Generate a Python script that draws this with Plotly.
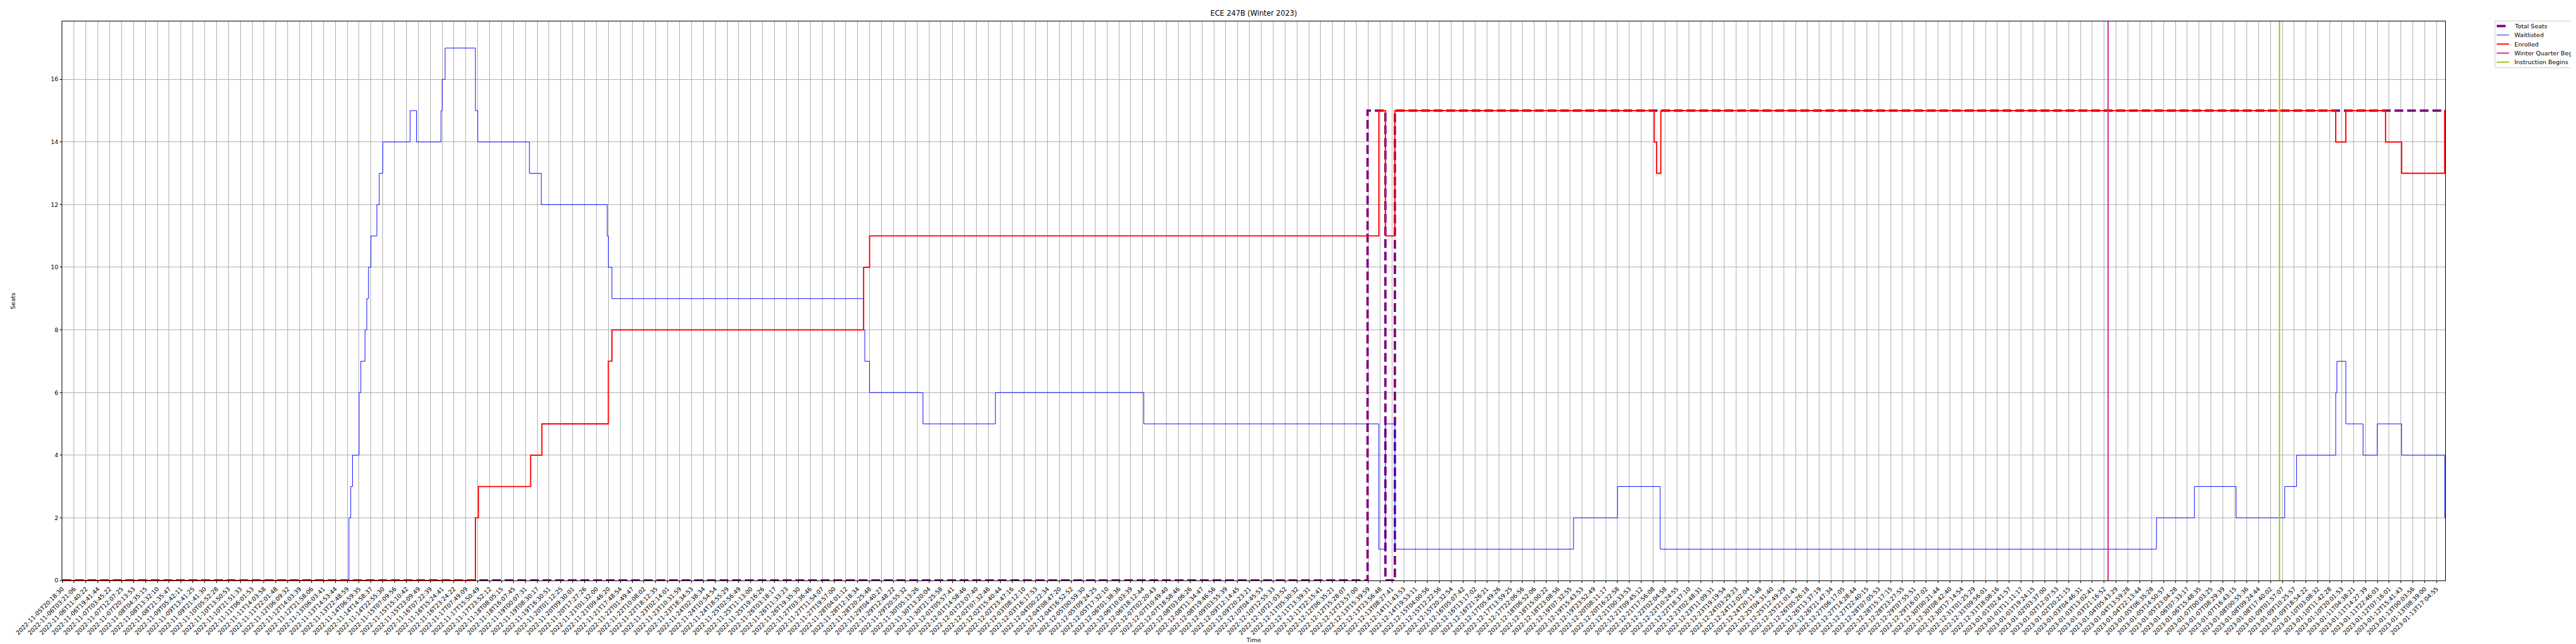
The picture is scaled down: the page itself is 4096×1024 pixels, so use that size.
import numpy as np
import pandas as pd
import plotly.graph_objects as go

# ---------------- data ----------------
tick_labels = [
    "2022-11-05T20:18:30", "2022-11-06T03:21:06", "2022-11-06T11:40:22", "2022-11-06T19:41:44",
    "2022-11-07T03:45:22", "2022-11-07T12:07:25", "2022-11-07T20:13:53", "2022-11-08T04:35:15",
    "2022-11-08T13:32:10", "2022-11-08T21:35:47", "2022-11-09T05:42:11", "2022-11-09T13:41:25",
    "2022-11-09T21:41:30", "2022-11-10T05:52:28", "2022-11-10T13:50:53", "2022-11-10T21:51:33",
    "2022-11-11T06:01:53", "2022-11-11T14:03:58", "2022-11-11T22:01:48", "2022-11-12T06:09:32",
    "2022-11-12T14:03:39", "2022-11-12T21:58:06", "2022-11-13T06:03:41", "2022-11-13T14:53:44",
    "2022-11-13T22:48:59", "2022-11-14T06:59:35", "2022-11-14T14:58:37", "2022-11-14T22:55:30",
    "2022-11-15T07:09:56", "2022-11-15T15:10:42", "2022-11-15T23:09:49", "2022-11-16T07:22:39",
    "2022-11-16T15:24:41", "2022-11-16T23:24:22", "2022-11-17T07:49:09", "2022-11-17T15:50:49",
    "2022-11-17T23:52:12", "2022-11-18T08:05:15", "2022-11-18T16:07:45", "2022-11-19T00:07:31",
    "2022-11-19T08:30:17", "2022-11-19T16:30:51", "2022-11-20T01:12:25", "2022-11-20T09:30:01",
    "2022-11-20T17:27:26", "2022-11-21T01:32:00", "2022-11-21T09:46:20", "2022-11-21T17:48:54",
    "2022-11-22T01:49:47", "2022-11-22T10:08:02", "2022-11-22T18:12:35", "2022-11-23T02:14:01",
    "2022-11-23T10:31:59", "2022-11-23T18:34:53", "2022-11-24T02:38:34", "2022-11-24T10:54:54",
    "2022-11-24T18:55:29", "2022-11-25T02:56:49", "2022-11-25T11:13:00", "2022-11-25T19:16:26",
    "2022-11-26T03:18:17", "2022-11-26T11:33:23", "2022-11-26T19:35:30", "2022-11-27T03:36:46",
    "2022-11-27T11:54:07", "2022-11-27T19:57:00", "2022-11-28T04:01:12", "2022-11-28T12:18:34",
    "2022-11-28T20:25:48", "2022-11-29T04:40:27", "2022-11-29T12:48:22", "2022-11-29T20:55:32",
    "2022-11-30T05:13:26", "2022-11-30T13:20:04", "2022-11-30T21:25:58", "2022-12-01T05:57:41",
    "2022-12-01T14:58:46", "2022-12-01T23:07:40", "2022-12-02T07:32:46", "2022-12-02T15:40:44",
    "2022-12-02T23:47:16", "2022-12-03T08:12:10", "2022-12-03T16:17:53", "2022-12-04T00:22:34",
    "2022-12-04T08:47:20", "2022-12-04T16:52:52", "2022-12-05T00:59:30", "2022-12-05T09:24:25",
    "2022-12-05T17:32:10", "2022-12-06T01:38:36", "2022-12-06T10:03:39", "2022-12-06T18:12:44",
    "2022-12-07T02:20:43", "2022-12-07T10:49:40", "2022-12-07T18:58:46", "2022-12-08T03:06:26",
    "2022-12-08T11:34:47", "2022-12-08T19:46:56", "2022-12-09T03:55:39", "2022-12-09T12:14:45",
    "2022-12-09T20:23:21", "2022-12-10T04:45:53", "2022-12-10T12:55:33", "2022-12-10T21:03:52",
    "2022-12-11T05:30:32", "2022-12-11T13:39:31", "2022-12-11T22:15:41", "2022-12-12T06:35:21",
    "2022-12-12T15:28:07", "2022-12-12T23:57:00", "2022-12-13T15:39:59", "2022-12-13T23:56:48",
    "2022-12-13T08:27:41", "2022-12-14T11:43:53", "2022-12-14T19:53:11", "2022-12-15T04:00:56",
    "2022-12-15T12:22:56", "2022-12-15T20:32:54", "2022-12-16T05:07:42", "2022-12-16T13:17:02",
    "2022-12-16T21:26:21", "2022-12-17T05:49:26", "2022-12-17T13:59:25", "2022-12-17T22:06:56",
    "2022-12-18T06:52:06", "2022-12-18T15:00:22", "2022-12-18T23:08:56", "2022-12-19T07:32:55",
    "2022-12-19T15:43:53", "2022-12-19T23:52:49", "2022-12-20T08:11:17", "2022-12-20T16:22:58",
    "2022-12-21T00:33:53", "2022-12-21T09:45:12", "2022-12-21T17:56:08", "2022-12-22T02:04:58",
    "2022-12-22T10:24:55", "2022-12-22T18:37:10", "2022-12-23T02:48:31", "2022-12-23T11:09:31",
    "2022-12-23T19:19:54", "2022-12-24T03:29:23", "2022-12-24T12:02:04", "2022-12-24T20:11:48",
    "2022-12-25T04:31:40", "2022-12-25T12:49:29", "2022-12-25T21:01:45", "2022-12-26T05:26:18",
    "2022-12-26T13:37:19", "2022-12-26T21:47:34", "2022-12-27T06:17:05", "2022-12-27T14:28:44",
    "2022-12-27T22:40:15", "2022-12-28T07:05:53", "2022-12-28T15:17:15", "2022-12-28T23:27:55",
    "2022-12-29T07:55:51", "2022-12-29T16:07:02", "2022-12-30T00:21:44", "2022-12-30T08:42:40",
    "2022-12-30T17:14:54", "2022-12-31T01:25:29", "2022-12-31T09:56:01", "2022-12-31T18:08:16",
    "2023-01-01T02:41:57", "2023-01-01T11:11:17", "2023-01-01T19:24:15", "2023-01-02T03:37:00",
    "2023-01-02T12:07:53", "2023-01-02T20:21:15", "2023-01-03T04:46:31", "2023-01-03T13:02:41",
    "2023-01-03T21:16:52", "2023-01-04T05:43:29", "2023-01-04T13:59:28", "2023-01-04T22:13:44",
    "2023-01-05T06:35:28", "2023-01-05T14:50:57", "2023-01-05T23:04:28", "2023-01-06T07:33:17",
    "2023-01-06T15:48:35", "2023-01-07T00:03:25", "2023-01-07T08:29:39", "2023-01-07T16:43:15",
    "2023-01-08T00:55:36", "2023-01-08T09:24:44", "2023-01-08T17:40:02", "2023-01-09T01:57:07",
    "2023-01-09T10:25:57", "2023-01-09T18:54:22", "2023-01-10T03:08:32", "2023-01-10T11:42:28",
    "2023-01-10T20:01:53", "2023-01-11T04:38:21", "2023-01-11T14:27:39", "2023-01-11T22:46:03",
    "2023-01-12T07:16:01", "2023-01-12T15:41:43", "2023-01-13T00:03:56", "2023-01-13T08:39:00",
    "2023-01-13T17:04:55",
]

# position of the last sample, in units of labelled-tick spacing
x_last = 200.72

# step series: change points (x in labelled-tick units) and the value from there on
total_x = [0, 109.95, 111.45, 112.25]
total_y = [0, 15, 0, 15]

wait_x = [0, 24.15, 24.3, 24.45, 25.0, 25.15, 25.5, 25.65, 25.8, 26.0, 26.5, 26.7, 27.0,
          29.3, 29.85, 31.9, 32.0, 32.25, 34.8, 35.0, 39.35, 40.35, 45.9, 46.0, 46.3,
          67.5, 67.6, 68.0, 72.5, 78.6, 91.1, 110.9, 111.45, 112.25,
          127.3, 131.0, 134.6, 176.4, 179.6, 183.1, 187.2, 188.2,
          191.5, 191.6, 192.35, 193.8, 195.0, 197.05, 200.68]
wait_y = [0, 2, 3, 4, 6, 7, 8, 9, 10, 11, 12, 13, 14,
          15, 14, 15, 16, 17, 15, 14, 13, 12, 11, 10, 9,
          8, 7, 6, 5, 6, 5, 1, 5, 1,
          2, 3, 1, 2, 3, 2, 3, 4,
          6, 7, 5, 4, 5, 4, 2]

enr_x = [0, 34.8, 35.05, 39.45, 40.4, 46.0, 46.3, 67.5, 67.6, 68.0,
         110.9, 111.45, 112.25, 134.1, 134.3, 134.65,
         191.5, 192.35, 195.7, 197.05, 200.68]
enr_y = [0, 2, 3, 4, 5, 7, 8, 10, 10, 11,
         15, 11, 15, 14, 13, 15,
         14, 15, 14, 13, 15]

event_names = ["Winter Quarter Begins", "Instruction Begins"]
event_times = ["2023-01-04T00:00:00", "2023-01-09T00:00:00"]
event_colors = ["#d62190", "#9abf11"]

# ---------------- helpers ----------------
tick_t = pd.to_datetime(pd.Series(tick_labels)).astype("int64").to_numpy() / 1e9


def time_to_pos(ts):
    t = pd.Timestamp(ts).value / 1e9
    for i in range(len(tick_t) - 1, 0, -1):
        if tick_t[i - 1] <= t <= tick_t[i]:
            return (i - 1) + (t - tick_t[i - 1]) / (tick_t[i] - tick_t[i - 1])
    return float(len(tick_t) - 1)


def extend(xs, ys):
    return list(xs) + [x_last], list(ys) + [ys[-1]]


S = 0.6827
PT = 100 / 72 * S  # one matplotlib point in output pixels
W, H = 4096, 1024
L, R, T, B = 91, 3880, 26, 915

y_top = max(max(wait_y), max(enr_y), max(total_y)) * 1.05

total_dash = "%.1fpx,%.1fpx" % (14.8 * PT, 6.4 * PT)
styles = [
    ("Total Seats", dict(color="#800080", width=4 * PT, dash=total_dash)),
    ("Waitlisted", dict(color="#0000ff", width=1 * PT)),
    ("Enrolled", dict(color="#ff0000", width=2 * PT)),
    (event_names[0], dict(color=event_colors[0], width=2 * PT)),
    (event_names[1], dict(color=event_colors[1], width=2 * PT)),
]

fig = go.Figure()
for (name, st), (xs, ys) in zip(styles[:3], [(total_x, total_y), (wait_x, wait_y), (enr_x, enr_y)]):
    sx, sy = extend(xs, ys)
    fig.add_trace(go.Scatter(x=sx, y=sy, mode="lines", name=name, line_shape="hv",
                             line=st, showlegend=False))
for (name, st), ts in zip(styles[3:], event_times):
    p = time_to_pos(ts)
    fig.add_trace(go.Scatter(x=[p, p], y=[0, y_top], mode="lines", name=name,
                             line=st, showlegend=False))

font = "DejaVu Sans, Arial, sans-serif"
fs = 10 * PT


# legend drawn in pixel positions (matplotlib-like, outside the axes at upper right)
def px(xp):
    return (xp - L) / (R - L)


def py(yp):
    return (B - yp) / (B - T)


leg_left, leg_top, leg_bottom = 3959, 25.3, 99.7
row0, row_gap = 33.4, 14.35
shapes = [dict(type="rect", xref="paper", yref="paper", x0=px(leg_left), x1=px(W + 10),
               y0=py(leg_bottom), y1=py(leg_top), line=dict(color="#cccccc", width=1),
               fillcolor="rgba(255,255,255,0.8)", layer="above")]
annotations = []
for i, (name, st) in enumerate(styles):
    yc = row0 + i * row_gap
    shapes.append(dict(type="line", xref="paper", yref="paper", x0=px(3962), x1=px(3981.5),
                       y0=py(yc), y1=py(yc), line=st, layer="above"))
    annotations.append(dict(text=name, xref="paper", yref="paper", x=px(3988), y=py(yc),
                            xanchor="left", yanchor="middle", showarrow=False,
                            font=dict(size=fs, family=font, color="black")))

fig.update_layout(
    width=W, height=H,
    margin=dict(l=L, r=W - R, t=T, b=H - B, autoexpand=False),
    paper_bgcolor="white", plot_bgcolor="white",
    font=dict(family=font, size=fs, color="black"),
    title=dict(text="ECE 247B (Winter 2023)", x=(L + R) / 2 / W, xanchor="center",
               y=1 - 13 / H, yanchor="middle", font=dict(size=12 * PT, family=font)),
    showlegend=False,
    shapes=shapes, annotations=annotations,
)
fig.update_xaxes(
    range=[0, x_last], tickmode="array", tickvals=list(range(len(tick_labels))),
    ticktext=tick_labels, tickangle=-45, showgrid=True, gridcolor="#b0b0b0", gridwidth=0.8 * PT,
    ticks="outside", ticklen=3.5 * PT, tickwidth=0.8 * PT, tickcolor="black",
    showline=True, mirror=True, linecolor="black", linewidth=0.8 * PT, zeroline=False,
    title=dict(text="Time", standoff=0, font=dict(size=fs)), tickfont=dict(size=fs), automargin=False,
)
fig.update_yaxes(
    range=[0, y_top], tickmode="array", tickvals=list(range(0, 17, 2)),
    showgrid=True, gridcolor="#b0b0b0", gridwidth=0.8 * PT,
    ticks="outside", ticklen=3.5 * PT, tickwidth=0.8 * PT, tickcolor="black",
    showline=True, mirror=True, linecolor="black", linewidth=0.8 * PT, zeroline=False,
    title=dict(text="Seats", standoff=54, font=dict(size=fs)), tickfont=dict(size=fs), automargin=False,
)

fig.write_html("out.html")
